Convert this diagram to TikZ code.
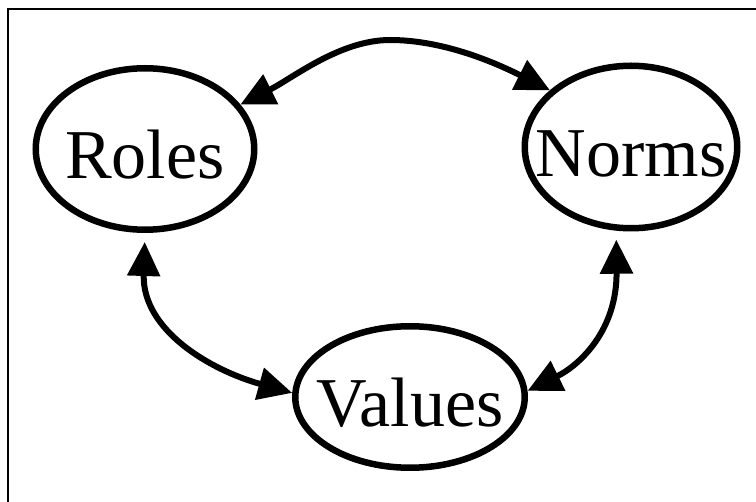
\documentclass[tikz,border=0pt]{standalone}
\usepackage{fontspec}
\setmainfont{Liberation Serif}
\usetikzlibrary{arrows.meta,shapes.geometric}
\begin{document}
\begin{tikzpicture}[x=1pt,y=-1pt,
  concept/.style={draw, line width=6.5pt, ellipse, inner sep=0pt,
    font=\fontsize{70}{84}\selectfont, text height=60pt, text depth=0pt},
  link/.style={line width=6pt,
    {Triangle[length=34pt,width=32pt]}-{Triangle[length=34pt,width=32pt]}}
]
\useasboundingbox (0,0) rectangle (756,502);
\clip (0,0) rectangle (756,502);
% outer frame
\draw[line width=2.5pt] (8,9) rectangle (780,530);

% the three concepts
\node[concept, minimum width=218.5pt, minimum height=161.5pt] (roles) at (145,149) {\makebox[0pt]{Roles}};
\node[concept, minimum width=212.5pt, minimum height=162.5pt] (norms) at (631,147) {\makebox[0pt]{Norms}};
\node[concept, minimum width=229.5pt, minimum height=141.5pt] (values) at (410,397) {\makebox[0pt]{Values}};

% two-way links between them
\coordinate (apex) at (390,40);
\draw[link] (roles.25) .. controls (293,78) and (340,40) .. (apex)
  .. controls (440,40) and (490,60) .. (norms.145);
\draw[link, shorten <=9pt] (roles.south) .. controls (142,330) and (210,370) .. (values.178);
\draw[link, shorten <=9pt] (norms.260) .. controls (617,330) and (580,365) .. (values.3);
\end{tikzpicture}
\end{document}
